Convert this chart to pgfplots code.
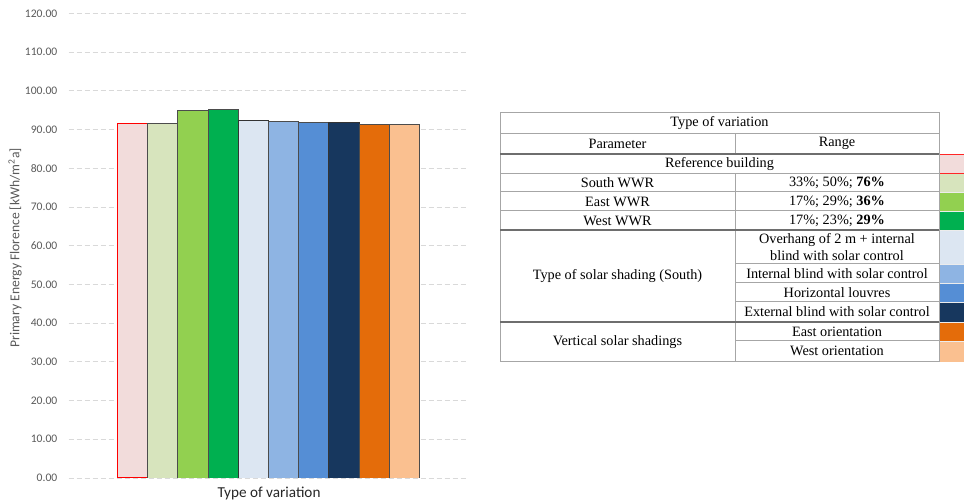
\documentclass[border=0pt]{standalone}
\usepackage{pgfplots}
\pgfplotsset{compat=1.18}
\usepackage{fontspec}
\setmainfont{Liberation Serif}
\newfontfamily\calfont{Carlito}
\definecolor{c1}{HTML}{F2DCDB}
\definecolor{c2}{HTML}{D7E4BD}
\definecolor{c3}{HTML}{92D050}
\definecolor{c4}{HTML}{00B050}
\definecolor{c5}{HTML}{DCE6F2}
\definecolor{c6}{HTML}{8EB4E3}
\definecolor{c7}{HTML}{558ED5}
\definecolor{c8}{HTML}{17375E}
\definecolor{c9}{HTML}{E46C0A}
\definecolor{c10}{HTML}{FAC090}
\definecolor{tickc}{HTML}{595959}
\definecolor{gridc}{HTML}{D9D9D9}
\definecolor{tabthin}{HTML}{A6A6A6}
\definecolor{tabthick}{HTML}{6E6E6E}
\begin{document}
\begin{tikzpicture}
\useasboundingbox (0,0) rectangle (723pt,376.5pt);
\begin{axis}[
  at={(51.5pt,18pt)}, anchor=south west,
  scale only axis, width=299.5pt, height=348.5pt,
  xmin=-1, xmax=1, ymin=0, ymax=120,
  ytick={0,10,...,120}, xtick=\empty,
  ybar=0pt, bar width=22.65pt,
  axis line style={draw=none},
  major tick length=0pt,
  ymajorgrids,
  grid style={dash pattern=on 3.75pt off 2.25pt, color=gridc, line width=0.6pt},
  yticklabel style={font=\calfont\fontsize{8.7}{10}\selectfont, color=tickc, xshift=-5pt},
  /pgf/number format/.cd, fixed, fixed zerofill, precision=2, assume math mode=true,
]
\addplot[fill=c1, draw=red, line width=0.75pt] coordinates {(0,91.65)};
\addplot[fill=c2, draw=black!70, line width=0.6pt] coordinates {(0,91.47)};
\addplot[fill=c3, draw=black!70, line width=0.6pt] coordinates {(0,94.83)};
\addplot[fill=c4, draw=black!70, line width=0.6pt] coordinates {(0,95.27)};
\addplot[fill=c5, draw=black!80, line width=0.6pt] coordinates {(0,92.32)};
\addplot[fill=c6, draw=black!70, line width=0.6pt] coordinates {(0,91.99)};
\addplot[fill=c7, draw=black!70, line width=0.6pt] coordinates {(0,91.73)};
\addplot[fill=c8, draw=black!80, line width=0.6pt] coordinates {(0,91.73)};
\addplot[fill=c9, draw=black!70, line width=0.6pt] coordinates {(0,91.29)};
\addplot[fill=c10, draw=black!70, line width=0.6pt] coordinates {(0,91.29)};
\end{axis}
\node[rotate=90, font=\calfont\fontsize{10.2}{12}\selectfont, text=tickc] at (11.25pt,190.5pt) {Primary Energy Florence [kWh/m\textsuperscript{2}a]};
\node[font=\calfont\fontsize{11.4}{13}\selectfont, text=black!85] at (201.75pt,6.75pt) {Type of variation};
\begin{scope}[shift={(0,376.5pt)}, x=0.75pt, y=-0.75pt, font=\fontsize{10.7}{12.5}\selectfont]
% swatches
\foreach \ya/\yb/\c in {173.3/192/c2, 192/211/c3, 211/230/c4, 230/264/c5, 264/283/c6, 283/302/c7, 302/322/c8, 322/341/c9, 341/361.7/c10}
  {\fill[\c] (939.5,\ya) rectangle (975,\yb);
   \draw[white!85!gray, line width=0.6pt] (939.5,\ya) -- (975,\ya);}
\filldraw[fill=c1, draw=red!85, line width=0.75pt] (939.8,154.3) rectangle (975,173.3);
% thin lines
\draw[tabthin, line width=0.75pt] (500,113) rectangle (939,361.7);
\draw[tabthin, line width=0.75pt] (500,133.3) -- (939,133.3);
\draw[tabthin, line width=0.75pt] (500,173.3) -- (939,173.3);
\draw[tabthin, line width=0.75pt] (500,192) -- (939,192);
\draw[tabthin, line width=0.75pt] (500,211) -- (939,211);
\draw[tabthin, line width=0.75pt] (735,133.3) -- (735,154);
\draw[tabthin, line width=0.75pt] (735,173.3) -- (735,361.7);
\draw[tabthin, line width=0.75pt] (735,264) -- (939,264);
\draw[tabthin, line width=0.75pt] (735,283) -- (939,283);
\draw[tabthin, line width=0.75pt] (735,302) -- (939,302);
\draw[tabthin, line width=0.75pt] (735,341) -- (939,341);
% thick lines
\draw[tabthick, line width=1.4pt] (500,154) -- (939,154);
\draw[tabthick, line width=1.4pt] (500,230) -- (939,230);
\draw[tabthick, line width=1.4pt] (500,322) -- (939,322);
% texts
\node at (719.5,123.2) {Type of variation};
\node at (617.5,143.7) {Parameter};
\node at (837,143.7) {Range};
\node at (719.5,163.7) {Reference building};
\node at (617.5,182.7) {South WWR};
\node at (617.5,201.5) {East WWR};
\node at (617.5,220.5) {West WWR};
\node at (837,182.7) {33\%; 50\%; \textbf{76\%}};
\node at (837,201.5) {17\%; 29\%; \textbf{36\%}};
\node at (837,220.5) {17\%; 23\%; \textbf{29\%}};
\node at (617.5,276) {Type of solar shading (South)};
\node[align=center, inner sep=0pt, font=\fontsize{10.7}{12.3}\selectfont] at (837,247) {Overhang of 2 m + internal\\blind with solar control};
\node at (837,273.5) {Internal blind with solar control};
\node at (837,292.5) {Horizontal louvres};
\node at (837,312) {External blind with solar control};
\node at (617.5,341.8) {Vertical solar shadings};
\node at (837,331.5) {East orientation};
\node at (837,351.3) {West orientation};
\end{scope}
\end{tikzpicture}
\end{document}
